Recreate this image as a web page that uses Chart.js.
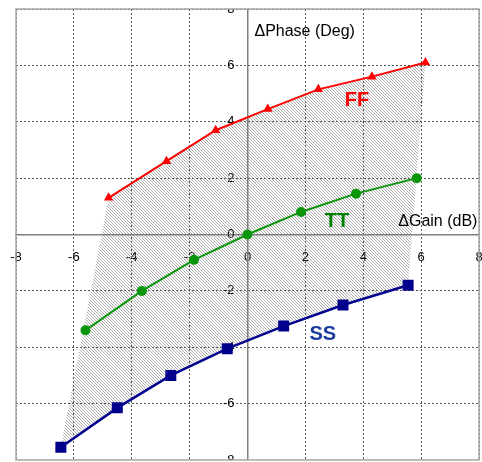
<!DOCTYPE html>
<html>
<head>
<meta charset="utf-8">
<script src="https://cdn.jsdelivr.net/npm/chart.js@4/dist/chart.umd.min.js"></script>
<style>
  html, body { margin: 0; padding: 0; background: #fff; overflow: hidden; }
  #wrap { width: 482px; height: 462px; }
</style>
</head>
<body>
<div id="wrap"><canvas id="c" width="482" height="462"></canvas></div>
<script>
// Gain / phase deviation per process corner
const ffGain  = [-4.8, -2.8, -1.1, 0.7, 2.45, 4.3, 6.15];
const ffPhase = [1.3, 2.6, 3.7, 4.45, 5.15, 5.6, 6.1];
const ttGain  = [-5.6, -3.65, -1.85, 0, 1.85, 3.75, 5.85];
const ttPhase = [-3.4, -2.0, -0.9, 0, 0.8, 1.45, 2.0];
const ssGain  = [-6.45, -4.5, -2.65, -0.7, 1.25, 3.3, 5.55];
const ssPhase = [-7.55, -6.15, -5.0, -4.05, -3.25, -2.5, -1.8];
const axisMin = -8, axisMax = 8, axisStep = 2;

const FONT = '"Liberation Sans", Arial, sans-serif';

const pts = (xs, ys) => xs.map((x, i) => ({ x, y: ys[i] }));

// spread envelope: FF curve forward, SS curve back
const envelope = pts(ffGain, ffPhase).concat(pts(ssGain, ssPhase).reverse());

const ctx = document.getElementById('c').getContext('2d');

function hatchPattern() {
  const t = document.createElement('canvas');
  t.width = 3; t.height = 3;
  const g = t.getContext('2d');
  g.fillStyle = 'rgba(120,120,120,0.6)';
  for (let i = 0; i < 3; i++) g.fillRect(i, i, 1, 1);
  return ctx.createPattern(t, 'repeat');
}

const notes = [
  { text: 'FF', x: 3.78, y: 4.75, color: '#ff0000', font: 'bold 20px ' + FONT, align: 'center' },
  { text: 'TT', x: 3.09, y: 0.46, color: '#008000', font: 'bold 20px ' + FONT, align: 'center' },
  { text: 'SS', x: 2.60, y: -3.55, color: '#1a3a9c', font: 'bold 20px ' + FONT, align: 'center' },
  { text: '\u0394Phase (Deg)', x: 0.24, y: 7.21, color: '#000', font: '16px ' + FONT, align: 'left' },
  { text: '\u0394Gain (dB)', x: 5.21, y: 0.47, color: '#000', font: '16px ' + FONT, align: 'left' }
];

const notesPlugin = {
  id: 'notes',
  afterDatasetsDraw(chart) {
    const c = chart.ctx, sx = chart.scales.x, sy = chart.scales.y;
    c.save();
    c.textBaseline = 'middle';
    notes.forEach(n => {
      c.font = n.font;
      c.fillStyle = n.color;
      c.textAlign = n.align;
      c.fillText(n.text, sx.getPixelForValue(n.x), sy.getPixelForValue(n.y));
    });
    c.restore();
  }
};

const framePlugin = {
  id: 'frame',
  afterDraw(chart) {
    const c = chart.ctx, a = chart.chartArea;
    c.save();
    c.fillStyle = '#fff';
    c.fillRect(0, 0, chart.width, a.top);
    c.fillRect(0, a.bottom, chart.width, chart.height - a.bottom);
    c.strokeStyle = '#a6a6a6';
    c.lineWidth = 1.5;
    c.strokeRect(a.left, a.top, a.right - a.left, a.bottom - a.top);
    c.restore();
  }
};

const noPad = s => { s.paddingTop = 0; s.paddingBottom = 0; s.paddingLeft = 0; s.paddingRight = 0; };

new Chart(ctx, {
  type: 'scatter',
  data: {
    datasets: [
      {
        label: 'FF', data: pts(ffGain, ffPhase), showLine: true,
        borderColor: '#ff0000', backgroundColor: '#ff0000', borderWidth: 2,
        pointStyle: 'triangle', pointRadius: 3.5, tension: 0
      },
      {
        label: 'TT', data: pts(ttGain, ttPhase), showLine: true,
        borderColor: '#0a960a', backgroundColor: '#0a960a', borderWidth: 2,
        pointStyle: 'circle', pointRadius: 4, tension: 0
      },
      {
        label: 'SS', data: pts(ssGain, ssPhase), showLine: true,
        borderColor: '#00008c', backgroundColor: '#00008c', borderWidth: 2.5,
        pointStyle: 'rect', pointRadius: 6, tension: 0
      },
      {
        label: 'spread', data: envelope, showLine: true,
        borderWidth: 0, borderColor: 'rgba(0,0,0,0)', pointRadius: 0,
        backgroundColor: hatchPattern(), fill: 'shape', tension: 0
      }
    ]
  },
  options: {
    responsive: false,
    animation: false,
    layout: { autoPadding: false, padding: { left: 16, right: 3, top: 9, bottom: 2 } },
    plugins: { legend: { display: false }, tooltip: { enabled: false } },
    scales: {
      x: {
        type: 'linear', min: axisMin, max: axisMax,
        position: { y: 0 },
        afterFit: noPad,
        ticks: { stepSize: axisStep, padding: 15, color: '#000', font: { family: FONT, size: 13 } },
        grid: { color: '#555', lineWidth: 1, drawTicks: false },
        border: { display: true, color: '#7f7f7f', width: 1.5, dash: [2, 2] }
      },
      y: {
        type: 'linear', min: axisMin, max: axisMax,
        position: { x: 0 },
        afterFit: noPad,
        ticks: {
          stepSize: axisStep, color: '#000', font: { family: FONT, size: 13 },
          // keep a gap between the labels and the vertical axis line
          callback: v => v + '\u2002\u2002'
        },
        grid: { color: '#555', lineWidth: 1, drawTicks: false },
        border: { display: true, color: '#7f7f7f', width: 1.5, dash: [2, 2] }
      }
    }
  },
  plugins: [notesPlugin, framePlugin]
});
</script>
</body>
</html>
